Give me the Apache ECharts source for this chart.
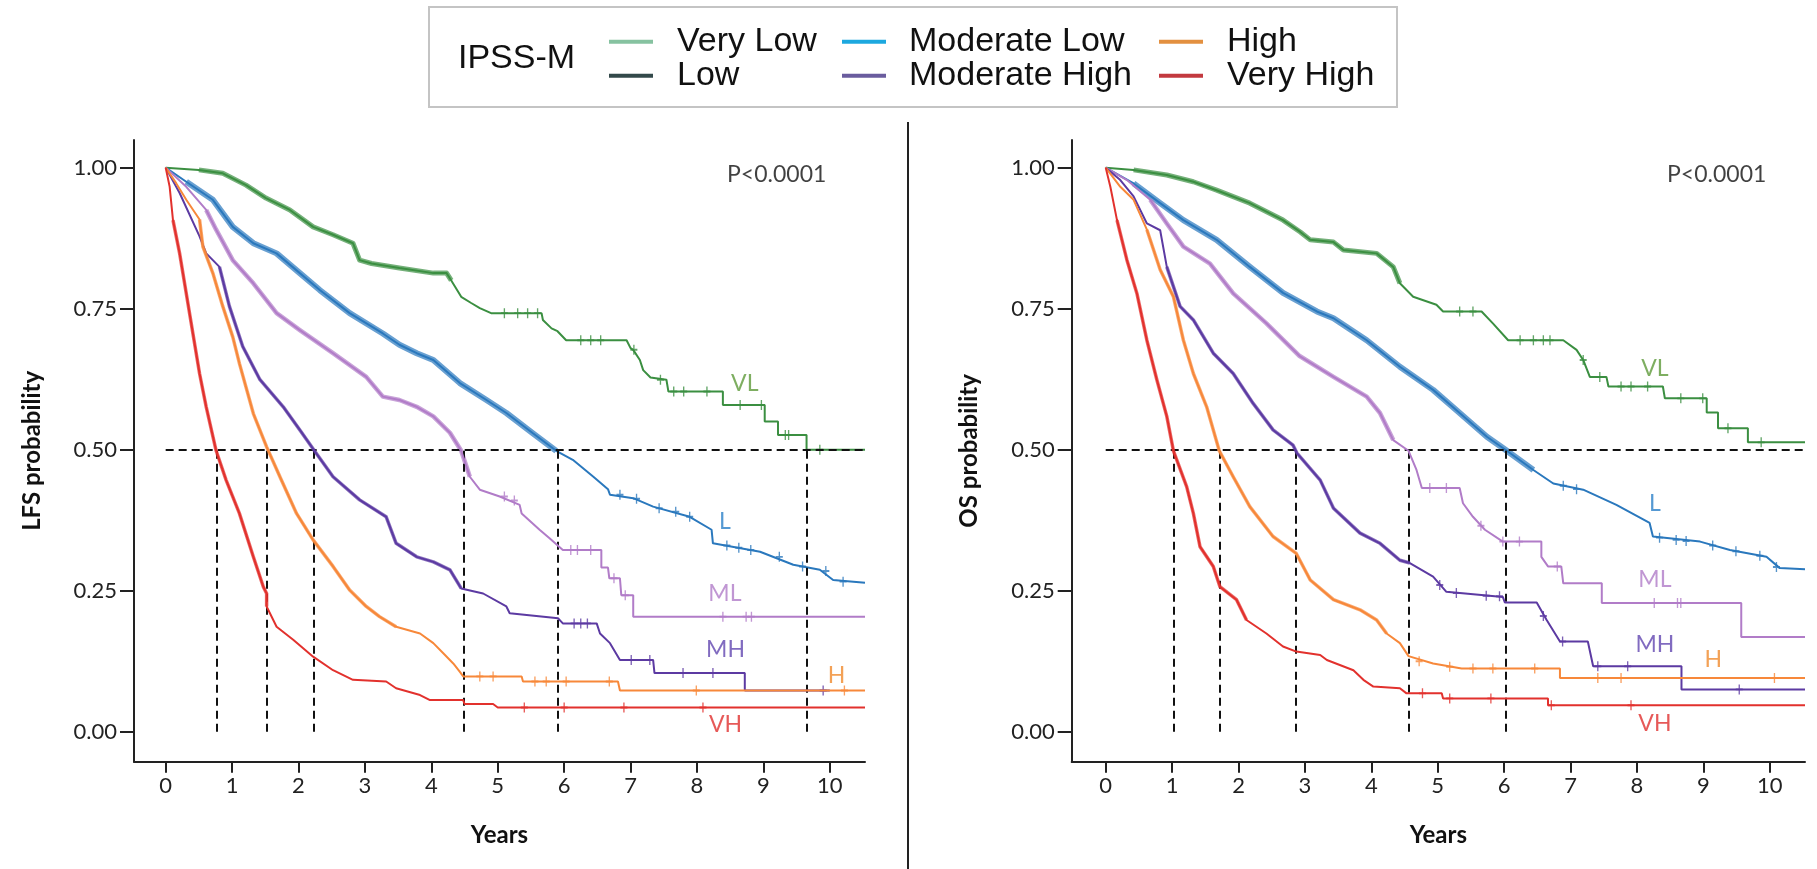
<!DOCTYPE html>
<html>
<head>
<meta charset="utf-8">
<script src="https://cdn.jsdelivr.net/npm/echarts@6/dist/echarts.min.js"></script>
<style>
html,body{margin:0;padding:0;background:#fff;}
#chart{width:1817px;height:869px;}
</style>
</head>
<body>
<div id="chart"></div>
<script>
// ---------- DATA ----------
const groupNames = ['Very Low','Low','Moderate Low','Moderate High','High','Very High'];
const groupAbbr = ['VL','L','ML','MH','H','VH'];
const xTicks = [0,1,2,3,4,5,6,7,8,9,10];
const yTicks = [0,0.25,0.5,0.75,1];
const pText = 'P<0.0001';
const pPos = [9.2, 0.987];

// LFS (left panel) curves: [years, probability]
const lfsVL = [[0,1],[0.5,0.996],[0.86,0.99],[1.21,0.969],[1.51,0.946],[1.87,0.925],[2.22,0.895],[2.52,0.881],[2.82,0.866],[2.92,0.836],[3.1,0.83],[3.52,0.822],[4.03,0.813],[4.23,0.813],[4.3,0.8],[4.45,0.771],[4.6,0.76],[4.73,0.751],[4.9,0.742],[5.66,0.742],[5.68,0.73],[5.81,0.715],[5.9,0.71],[6.03,0.694],[6.94,0.694],[7.0,0.68],[7.04,0.677],[7.14,0.659],[7.19,0.641],[7.3,0.628],[7.54,0.624],[7.57,0.603],[8.39,0.603],[8.39,0.579],[9.02,0.579],[9.02,0.55],[9.22,0.55],[9.22,0.526],[9.65,0.526],[9.65,0.5],[10.53,0.5]];
const lfsL = [[0,1],[0.31,0.975],[0.71,0.943],[1.01,0.895],[1.32,0.866],[1.67,0.848],[2.02,0.813],[2.32,0.783],[2.77,0.742],[3.27,0.706],[3.52,0.686],[3.78,0.671],[4.03,0.659],[4.43,0.618],[4.83,0.588],[5.13,0.565],[5.53,0.529],[5.88,0.498],[6.13,0.482],[6.44,0.452],[6.66,0.43],[6.69,0.42],[7.04,0.414],[7.34,0.399],[7.89,0.381],[8.22,0.358],[8.24,0.334],[8.95,0.319],[9.45,0.296],[9.85,0.287],[10.05,0.269],[10.53,0.264]];
const lfsML = [[0,1],[0.31,0.966],[0.61,0.925],[0.76,0.89],[1.01,0.836],[1.32,0.795],[1.67,0.742],[2.02,0.712],[2.52,0.671],[3.02,0.629],[3.27,0.594],[3.52,0.588],[3.78,0.576],[4.03,0.559],[4.28,0.53],[4.45,0.498],[4.58,0.452],[4.73,0.429],[5.03,0.417],[5.33,0.402],[5.36,0.387],[5.63,0.358],[5.78,0.343],[5.98,0.322],[6.56,0.322],[6.56,0.291],[6.66,0.291],[6.68,0.272],[6.84,0.272],[6.86,0.242],[7.04,0.242],[7.04,0.204],[10.53,0.204]];
const lfsMH = [[0,1],[0.21,0.955],[0.51,0.878],[0.61,0.848],[0.81,0.824],[0.96,0.754],[1.16,0.683],[1.42,0.624],[1.77,0.576],[2.02,0.535],[2.24,0.498],[2.52,0.452],[2.92,0.411],[3.32,0.381],[3.47,0.334],[3.78,0.31],[4.03,0.301],[4.28,0.287],[4.45,0.254],[4.78,0.245],[5.13,0.222],[5.18,0.21],[5.91,0.201],[5.98,0.192],[6.49,0.192],[6.54,0.174],[6.69,0.157],[6.84,0.127],[7.34,0.127],[7.36,0.104],[8.72,0.104],[8.72,0.073],[10.0,0.073]];
const lfsH = [[0,1],[0.16,0.972],[0.31,0.943],[0.51,0.908],[0.56,0.86],[0.71,0.813],[0.86,0.754],[1.01,0.7],[1.11,0.653],[1.32,0.564],[1.52,0.505],[1.72,0.452],[1.97,0.387],[2.22,0.34],[2.52,0.293],[2.77,0.251],[3.02,0.222],[3.22,0.204],[3.47,0.186],[3.83,0.174],[4.03,0.157],[4.18,0.139],[4.33,0.121],[4.43,0.106],[4.48,0.098],[5.36,0.098],[5.38,0.089],[6.81,0.089],[6.84,0.073],[10.53,0.073]];
const lfsVH = [[0,1],[0.06,0.966],[0.11,0.907],[0.21,0.848],[0.31,0.777],[0.41,0.706],[0.51,0.635],[0.61,0.576],[0.76,0.498],[0.91,0.446],[1.11,0.387],[1.32,0.31],[1.47,0.257],[1.52,0.245],[1.52,0.222],[1.67,0.186],[1.92,0.163],[2.22,0.133],[2.52,0.109],[2.82,0.092],[3.32,0.089],[3.47,0.077],[3.83,0.065],[3.98,0.056],[4.48,0.056],[4.5,0.049],[4.93,0.049],[5.0,0.043],[10.53,0.043]];

// LFS censor marks
const lfsCensVL = [[5.1,0.742],[5.3,0.742],[5.45,0.742],[5.6,0.742],[6.25,0.694],[6.4,0.694],[6.55,0.694],[7.05,0.677],[7.45,0.624],[7.65,0.603],[7.8,0.603],[8.15,0.603],[8.65,0.579],[8.97,0.579],[9.33,0.526],[9.38,0.526],[9.85,0.5]];
const lfsCensL = [[6.84,0.42],[7.09,0.413],[7.43,0.396],[7.68,0.39],[7.89,0.381],[8.45,0.33],[8.63,0.326],[8.81,0.322],[9.24,0.31],[9.59,0.293],[9.94,0.285],[10.2,0.266]];
const lfsCensML = [[5.1,0.417],[5.25,0.41],[6.1,0.322],[6.2,0.322],[6.4,0.322],[6.75,0.272],[6.92,0.242],[8.39,0.204],[8.74,0.204],[8.82,0.204]];
const lfsCensMH = [[6.15,0.192],[6.25,0.192],[6.35,0.192],[7.01,0.127],[7.29,0.127],[7.79,0.104],[8.24,0.104],[9.9,0.073]];
const lfsCensH = [[4.73,0.098],[4.93,0.098],[5.56,0.089],[5.73,0.089],[6.03,0.089],[6.68,0.089],[7.99,0.073],[10.22,0.073]];
const lfsCensVH = [[5.4,0.043],[6.0,0.043],[6.9,0.043],[8.09,0.043]];
// time ranges where censoring marks are too dense to separate
const lfsDense = [[0.3,4.4],[0.2,6.0],[0.4,4.6],[0.8,4.5],[0.5,3.6],[0.1,1.6]];

const lfsMedians = [0.77, 1.52, 2.23, 4.49, 5.9, 9.66];
const lfsLabelPos = [[8.72,0.618],[8.42,0.372],[8.42,0.245],[8.43,0.145],[10.1,0.1],[8.43,0.012]];

// OS (right panel) curves
const osVL = [[0,1],[0.42,0.996],[0.92,0.987],[1.32,0.975],[1.67,0.96],[2.17,0.937],[2.67,0.907],[2.93,0.886],[3.08,0.872],[3.43,0.868],[3.58,0.854],[4.08,0.848],[4.33,0.824],[4.43,0.795],[4.63,0.771],[4.98,0.757],[5.08,0.745],[5.66,0.745],[5.83,0.724],[6.06,0.694],[6.89,0.694],[7.09,0.677],[7.19,0.659],[7.29,0.629],[7.54,0.629],[7.57,0.612],[8.39,0.612],[8.42,0.591],[9.05,0.591],[9.05,0.566],[9.22,0.566],[9.22,0.538],[9.67,0.538],[9.67,0.513],[10.53,0.513]];
const osL = [[0,1],[0.42,0.972],[0.82,0.937],[1.17,0.907],[1.67,0.872],[2.17,0.824],[2.67,0.778],[3.18,0.745],[3.43,0.733],[3.93,0.694],[4.43,0.647],[4.93,0.606],[5.33,0.565],[5.74,0.523],[6.04,0.498],[6.44,0.464],[6.74,0.44],[7.19,0.429],[7.69,0.402],[8.19,0.37],[8.24,0.346],[8.95,0.337],[9.4,0.322],[9.95,0.31],[10.15,0.29],[10.53,0.288]];
const osML = [[0,1],[0.32,0.978],[0.67,0.943],[0.92,0.901],[1.17,0.86],[1.57,0.83],[1.92,0.777],[2.42,0.724],[2.92,0.666],[3.43,0.629],[3.93,0.594],[4.13,0.565],[4.33,0.517],[4.56,0.498],[4.68,0.464],[4.76,0.432],[5.33,0.432],[5.38,0.405],[5.53,0.381],[5.71,0.358],[5.98,0.337],[6.56,0.337],[6.56,0.31],[6.66,0.293],[6.86,0.293],[6.89,0.263],[7.47,0.263],[7.47,0.228],[9.57,0.228],[9.57,0.168],[10.53,0.168]];
const osMH = [[0,1],[0.22,0.978],[0.42,0.949],[0.62,0.901],[0.82,0.889],[0.92,0.824],[1.12,0.754],[1.32,0.73],[1.62,0.671],[1.92,0.635],[2.22,0.582],[2.52,0.535],[2.82,0.508],[2.88,0.494],[3.23,0.446],[3.43,0.396],[3.83,0.352],[4.13,0.334],[4.43,0.304],[4.58,0.299],[4.93,0.275],[5.13,0.248],[5.98,0.239],[6.01,0.229],[6.49,0.229],[6.64,0.198],[6.84,0.16],[7.26,0.16],[7.34,0.116],[8.67,0.116],[8.67,0.075],[10.53,0.075]];
const osH = [[0,1],[0.22,0.966],[0.42,0.943],[0.62,0.89],[0.82,0.819],[1.02,0.771],[1.17,0.694],[1.32,0.635],[1.52,0.576],[1.71,0.498],[1.92,0.452],[2.17,0.399],[2.52,0.346],[2.87,0.316],[3.08,0.269],[3.43,0.234],[3.83,0.216],[4.08,0.198],[4.23,0.174],[4.43,0.157],[4.56,0.134],[4.93,0.121],[5.36,0.112],[6.84,0.112],[6.84,0.095],[10.53,0.095]];
const osVH = [[0,1],[0.07,0.966],[0.17,0.907],[0.32,0.836],[0.47,0.777],[0.62,0.694],[0.77,0.624],[0.92,0.559],[1.02,0.498],[1.22,0.434],[1.32,0.387],[1.42,0.328],[1.62,0.293],[1.72,0.257],[1.97,0.234],[2.12,0.198],[2.42,0.174],[2.67,0.151],[2.87,0.142],[3.23,0.136],[3.33,0.127],[3.73,0.109],[3.88,0.092],[4.03,0.08],[4.43,0.077],[4.53,0.068],[5.06,0.068],[5.08,0.059],[6.66,0.059],[6.66,0.047],[10.53,0.047]];

// OS censor marks
const osCensVL = [[5.33,0.745],[5.53,0.745],[6.24,0.694],[6.44,0.694],[6.59,0.694],[6.69,0.694],[7.19,0.659],[7.44,0.629],[7.76,0.612],[7.91,0.612],[8.16,0.612],[8.66,0.591],[8.99,0.591],[9.37,0.538],[9.87,0.513]];
const osCensL = [[6.89,0.436],[7.09,0.43],[8.34,0.344],[8.59,0.34],[8.74,0.338],[9.14,0.33],[9.49,0.32],[9.85,0.312],[10.1,0.292]];
const osCensML = [[4.88,0.432],[5.13,0.432],[5.65,0.365],[5.98,0.337],[6.23,0.337],[6.8,0.293],[8.26,0.228],[8.61,0.228],[8.66,0.228]];
const osCensMH = [[5.03,0.26],[5.28,0.246],[5.73,0.241],[5.93,0.24],[6.59,0.205],[6.88,0.16],[7.41,0.116],[7.86,0.116],[9.54,0.075]];
const osCensH = [[4.72,0.125],[5.18,0.115],[5.53,0.112],[5.83,0.112],[6.46,0.112],[7.41,0.095],[7.76,0.095],[10.07,0.095]];
const osCensVH = [[4.77,0.068],[5.18,0.059],[5.8,0.059],[6.71,0.047],[7.91,0.047]];
const osDense = [[0.3,4.6],[0.2,6.6],[0.4,4.4],[0.9,4.6],[0.5,4.4],[0.1,2.2]];

const osMedians = [1.02, 1.71, 2.86, 4.56, 6.02];
const osLabelPos = [[8.27,0.644],[8.27,0.405],[8.27,0.269],[8.27,0.154],[9.15,0.127],[8.27,0.015]];

// ---------- STYLE ----------
const curveColors = ['#3b8f41','#2a78bd','#b17cc8','#5c3aa2','#f7883a','#e2312d'];
const labelColors = ['#5e9a3a','#2a80c8','#b07cc8','#6246b0','#f08a2c','#e0302e'];
const legendColors = ['#86c2a0','#33494a','#1ca8df','#6a5c9e','#e39040','#c3393f'];
const denseWidths = [5, 6, 4.5, 3.5, 3.5, 3.5];
const fontMain = 'Lato, "Open Sans", "DejaVu Sans", sans-serif';

const lfsCurves = [lfsVL, lfsL, lfsML, lfsMH, lfsH, lfsVH];
const lfsCens = [lfsCensVL, lfsCensL, lfsCensML, lfsCensMH, lfsCensH, lfsCensVH];
const osCurves = [osVL, osL, osML, osMH, osH, osVH];
const osCens = [osCensVL, osCensL, osCensML, osCensMH, osCensH, osCensVH];

const chart = echarts.init(document.getElementById('chart'), null, {renderer: 'canvas'});

function makeXAxis(gi, min) {
  return {
    type: 'value', gridIndex: gi, min: min, max: 10.53,
    name: 'Years', nameLocation: 'middle', nameGap: 62,
    nameTextStyle: {fontFamily: fontMain, fontWeight: 'bold', fontSize: 24, color: '#111'},
    axisLine: {show: true, onZero: false, lineStyle: {color: '#222', width: 2}},
    axisTick: {show: true, length: 11, lineStyle: {color: '#222', width: 2}, customValues: xTicks},
    axisLabel: {fontFamily: fontMain, fontSize: 22, color: '#222', margin: 13, customValues: xTicks,
      formatter: v => String(v)},
    splitLine: {show: false}
  };
}
function makeYAxis(gi, title) {
  return {
    type: 'value', gridIndex: gi, min: -0.0532, max: 1.049,
    name: title, nameLocation: 'middle', nameGap: 90, nameRotate: 90,
    nameTextStyle: {fontFamily: fontMain, fontWeight: 'bold', fontSize: 24, color: '#111'},
    axisLine: {show: true, onZero: false, lineStyle: {color: '#222', width: 2}},
    axisTick: {show: true, length: 14, lineStyle: {color: '#222', width: 2}, customValues: yTicks},
    axisLabel: {fontFamily: fontMain, fontSize: 22, color: '#222', margin: 17, customValues: yTicks,
      formatter: v => v.toFixed(2)},
    splitLine: {show: false}
  };
}

const plusSymbol = 'path://M5,0L5,12M1,6L9,6';

function panelSeries(gi, curves, cens, dense, medians, labelPos) {
  const out = [];
  curves.forEach((data, i) => {
    // band where censoring marks overlap into a thick trace
    const r = dense[i];
    out.push({
      name: groupNames[i], type: 'line', xAxisIndex: gi, yAxisIndex: gi,
      data: data.filter(p => p[0] >= r[0] && p[0] <= r[1]),
      showSymbol: false, symbol: 'none', silent: true,
      lineStyle: {color: curveColors[i], width: denseWidths[i], opacity: 0.7, join: 'round'},
      itemStyle: {color: curveColors[i]}, z: 2 + i, animation: false
    });
    const s = {
      name: groupNames[i], type: 'line', xAxisIndex: gi, yAxisIndex: gi,
      data: data, showSymbol: false, symbol: 'none', silent: true,
      lineStyle: {color: curveColors[i], width: 2},
      itemStyle: {color: curveColors[i]},
      z: 3 + i, animation: false
    };
    if (i === 0) {
      const ml = [[{coord: [0, 0.5]}, {coord: [10.53, 0.5]}]];
      medians.forEach(m => ml.push([{coord: [m, 0]}, {coord: [m, 0.5]}]));
      s.markLine = {
        silent: true, symbol: ['none','none'], animation: false,
        label: {show: false},
        lineStyle: {color: '#111', width: 2, type: [8, 5]},
        emphasis: {disabled: true},
        data: ml
      };
    }
    out.push(s);
  });
  cens.forEach((data, i) => {
    out.push({
      name: groupNames[i], type: 'scatter', xAxisIndex: gi, yAxisIndex: gi,
      data: data, symbol: plusSymbol, symbolSize: [7, 10], silent: true,
      itemStyle: {color: 'rgba(0,0,0,0)', borderColor: curveColors[i], borderWidth: 1.6},
      z: 3 + i, animation: false
    });
  });
  const labData = labelPos.map((p, i) => ({
    value: [p[0], p[1]], name: groupAbbr[i],
    label: {color: labelColors[i]}
  }));
  labData.push({value: pPos, name: pText, label: {color: '#111'}});
  out.push({
    type: 'scatter', xAxisIndex: gi, yAxisIndex: gi, data: labData,
    symbolSize: 0, silent: true, animation: false, z: 20,
    label: {show: true, position: 'inside', formatter: p => p.name,
      fontFamily: fontMain, fontSize: 23}
  });
  return out;
}

const legendBase = {
  orient: 'vertical', top: 24.7, padding: 0, itemGap: 0,
  itemWidth: 44, itemHeight: 4, icon: 'rect', selectedMode: false,
  textStyle: {fontFamily: '"Liberation Sans", Arial, sans-serif', fontSize: 34, lineHeight: 34,
    color: '#111', padding: [0, 0, 0, 19]}
};
function legendData(idx) {
  return idx.map(i => ({name: groupNames[i], itemStyle: {color: legendColors[i], borderWidth: 0},
    lineStyle: {color: legendColors[i]}}));
}

const option = {
  backgroundColor: '#fff',
  animation: false,
  legend: [
    Object.assign({}, legendBase, {left: 609, data: legendData([0,1])}),
    Object.assign({}, legendBase, {left: 842, data: legendData([2,3]), textStyle: Object.assign({}, legendBase.textStyle, {padding: [0,0,0,18]})}),
    Object.assign({}, legendBase, {left: 1159, data: legendData([4,5])})
  ],
  graphic: [
    {type: 'rect', shape: {x: 429, y: 7, width: 968, height: 100},
      style: {fill: 'none', stroke: '#c4c4c4', lineWidth: 2}, silent: true},
    {type: 'text', left: 458, top: 42,
      style: {text: 'IPSS-M', font: '34px "Liberation Sans", Arial, sans-serif', fill: '#111'}, silent: true},
    {type: 'line', shape: {x1: 908, y1: 122, x2: 908, y2: 869},
      style: {stroke: '#222', lineWidth: 2}, silent: true}
  ],
  grid: [
    {left: 134, top: 140, width: 731, height: 621.7},
    {left: 1071.7, top: 140, width: 733.3, height: 621.7}
  ],
  xAxis: [makeXAxis(0, -0.477), makeXAxis(1, -0.512)],
  yAxis: [makeYAxis(0, 'LFS probability'), makeYAxis(1, 'OS probability')],
  series: [].concat(
    panelSeries(0, lfsCurves, lfsCens, lfsDense, lfsMedians, lfsLabelPos),
    panelSeries(1, osCurves, osCens, osDense, osMedians, osLabelPos)
  )
};
chart.setOption(option);
</script>
</body>
</html>
